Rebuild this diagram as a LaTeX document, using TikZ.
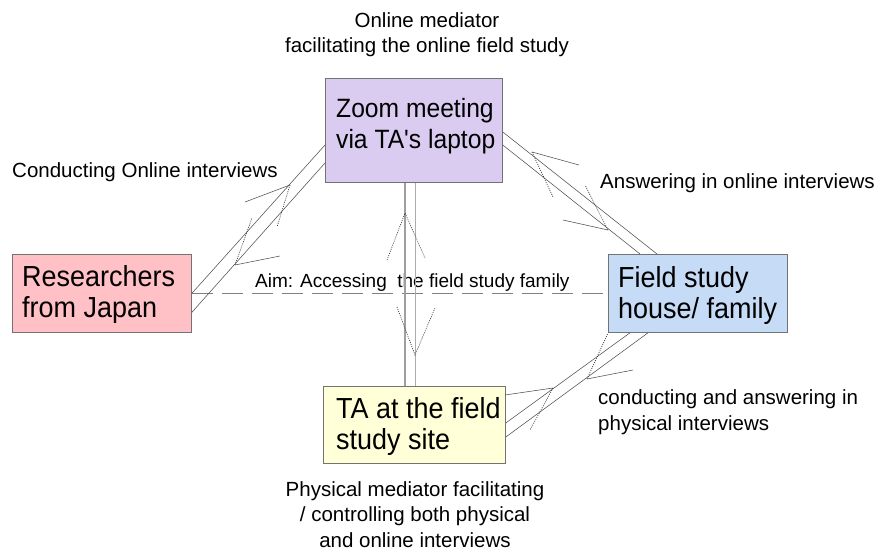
\documentclass[tikz,border=0pt]{standalone}
\usepackage{fontspec}
\setmainfont{Liberation Sans}
\newfontfamily\boxfont{Liberation Sans}[FakeStretch=0.93]
\usetikzlibrary{calc}
\definecolor{respink}{HTML}{FFC0C6}
\definecolor{zoomlav}{HTML}{DACCF0}
\definecolor{fieldblue}{HTML}{C6DBF5}
\definecolor{tayellow}{HTML}{FFFFD8}
\definecolor{linegray}{HTML}{505050}
\tikzset{
  box/.style={draw=gray!90!black, line width=0.8pt, inner sep=0pt, anchor=north west},
  boxtext/.style={font=\boxfont\fontsize{29}{31}\selectfont, align=left, anchor=base west, inner sep=0pt},
  lbl/.style={font=\fontsize{20.5}{25.5}\selectfont, inner sep=0pt},
  conn/.style={draw=linegray, line width=0.55pt},
  barb/.style={draw=linegray, line width=0.55pt},
  dbarb/.style={draw=black!80, line width=0.65pt, dash pattern=on 1pt off 1.2pt},
}
\begin{document}
\begin{tikzpicture}[x=1pt,y=-1pt]
\useasboundingbox (0,0) rectangle (876,551);
% boxes
\node[box, fill=respink, minimum width=179pt, minimum height=78pt] (res) at (12,254) {};
\node[box, fill=zoomlav, minimum width=177pt, minimum height=104pt] (zoom) at (325,78) {};
\node[box, fill=fieldblue, minimum width=179pt, minimum height=78pt] (field) at (608,254) {};
\node[box, fill=tayellow, minimum width=182pt, minimum height=77pt] (ta) at (323,386) {};
% box texts (anchor = baseline of last line)
\node[boxtext] (rest) at (22,317) {Researchers\\from Japan};
\node[boxtext, font=\boxfont\fontsize{26.5}{31}\selectfont] (zoomt) at (336,148) {Zoom meeting\\via TA's laptop};
\node[boxtext] (fieldt) at (618,318) {Field study\\house/ family};
\node[boxtext] (tat) at (336,449) {TA at the field\\study site};
% labels
\node[lbl, align=center, anchor=base] (ltop) at (427,53) {Online mediator\\facilitating the online field study};
\node[lbl, anchor=base west] (lleft) at (12,177) {Conducting Online interviews};
\node[lbl, anchor=base west] (lright) at (600,188) {Answering in online interviews};
\node[lbl, align=left, anchor=base west] (lphys) at (598,430) {conducting and answering in\\physical interviews};
\node[lbl, align=center, anchor=base] (lbot) at (415,547) {Physical mediator facilitating\\/ controlling both physical\\and online interviews};
\node[font=\fontsize{19}{23}\selectfont, inner sep=0pt, anchor=base west] (laim) at (255,287) {Aim: Accessing~ the field study family};
% aim dashed line
\draw[draw=gray, line width=0.6pt, dash pattern=on 21pt off 9pt] (res.east) -- (field.west);
% researchers -- zoom
\draw[conn] (res.east) -- ($(zoom.north west)+(0,67)$);
\draw[conn] ($(res.east)+(0,19)$) -- ($(zoom.north west)+(0,85)$);
\draw[barb] (245,202) -- (290,185);
\draw[dbarb] (290,185) -- (277,227);
\draw[barb] (280,256) -- (235,265);
\draw[dbarb] (235,265) -- (252,218);
% zoom -- field
\draw[conn] ($(zoom.north east)+(0,54)$) -- ($(field.north west)+(49,0)$);
\draw[conn] ($(zoom.north east)+(0,67)$) -- ($(field.north west)+(32,0)$);
\draw[barb] (579,165) -- (532,152);
\draw[dbarb] (532,152) -- (553,197);
\draw[barb] (563,220) -- (608,230);
\draw[dbarb] (608,230) -- (585,185);
% zoom -- ta
\draw[draw=gray!75, line width=1.3pt] ($(zoom.south west)+(80,0)$) -- ($(ta.north west)+(82,0)$);
\draw[draw=gray!65, line width=0.6pt] ($(zoom.south west)+(90,0)$) -- ($(ta.north west)+(92,0)$);
\draw[dbarb] (387,260) -- (405,213) -- (425,258);
\draw[dbarb] (397,307) -- (415,355) -- (435,308);
% field -- ta
\draw[conn] ($(ta.north east)+(0,37)$) -- ($(field.south west)+(22,0)$);
\draw[conn] ($(ta.north east)+(0,51)$) -- ($(field.south west)+(40,0)$);
\draw[barb] (505,395) -- (553,388);
\draw[dbarb] (553,388) -- (530,430);
\draw[barb] (633,370) -- (587,379);
\draw[dbarb] (587,379) -- (608,333);
\end{tikzpicture}
\end{document}
